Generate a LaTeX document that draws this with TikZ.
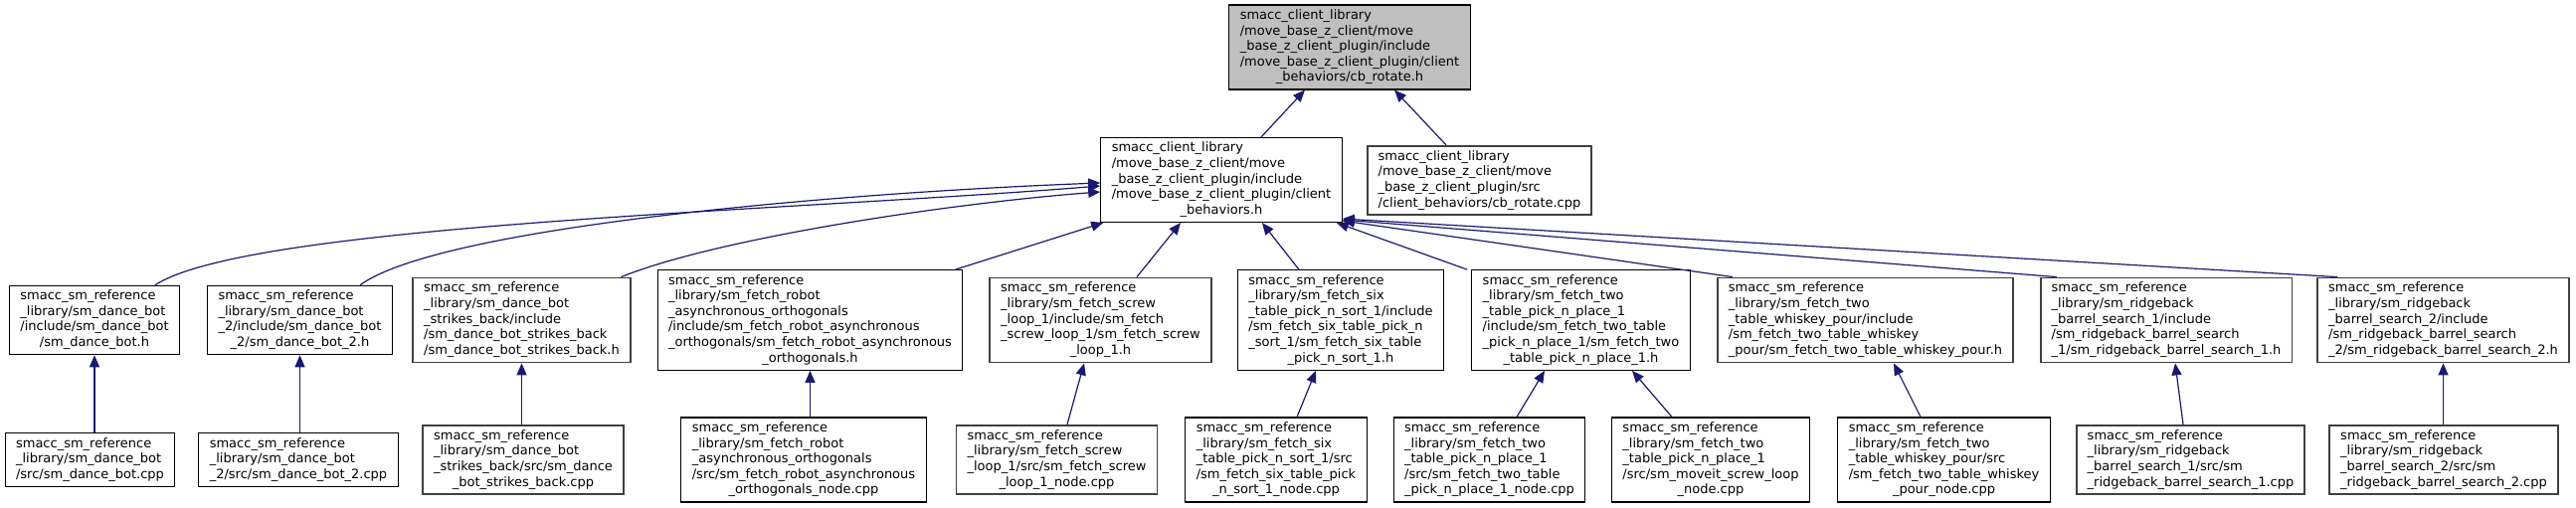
\documentclass[tikz,border=0pt]{standalone}
\usepackage{fontspec}
\setmainfont{DejaVu Sans}
\usetikzlibrary{arrows.meta}
\definecolor{edgecol}{HTML}{191970}
\definecolor{topfill}{HTML}{BFBFBF}
\definecolor{dborder}{HTML}{404040}
\newcommand{\flab}[2]{\begin{tabular}{@{}l@{}}#1\\\multicolumn{1}{@{}c@{}}{#2}\end{tabular}}
\begin{document}
\begin{tikzpicture}[x=1pt,y=-1pt,
  box/.style={draw=black, line width=1.1pt, fill=white, inner xsep=11pt, inner ysep=3.5pt, font=\fontsize{13}{15.6}\selectfont},
  dbox/.style={box, draw=dborder, line width=1.8pt},
  edge/.style={draw=edgecol, line width=1.2pt, -{Triangle[length=12pt,width=10pt]}}]
\fill[white] (0,0) rectangle (2590,511);
\useasboundingbox (0,0) rectangle (2590,511);

% top
\node[box, fill=topfill] (top) at (1357,47.5) {\flab{smacc\_client\_library\\/move\_base\_z\_client/move\\\_base\_z\_client\_plugin/include\\/move\_base\_z\_client\_plugin/client}{\_behaviors/cb\_rotate.h}};
% row 1
\node[box] (cb) at (1228,181) {\flab{smacc\_client\_library\\/move\_base\_z\_client/move\\\_base\_z\_client\_plugin/include\\/move\_base\_z\_client\_plugin/client}{\_behaviors.h}};
\node[dbox] (cbrot) at (1487.5,181.5) {\flab{smacc\_client\_library\\/move\_base\_z\_client/move\\\_base\_z\_client\_plugin/src}{/client\_behaviors/cb\_rotate.cpp}};
% row 2
\node[box] (b1) at (95,322) {\flab{smacc\_sm\_reference\\\_library/sm\_dance\_bot\\/include/sm\_dance\_bot}{/sm\_dance\_bot.h}};
\node[box] (b2) at (301.5,322) {\flab{smacc\_sm\_reference\\\_library/sm\_dance\_bot\\\_2/include/sm\_dance\_bot}{\_2/sm\_dance\_bot\_2.h}};
\node[dbox] (b3) at (524.5,322) {\flab{smacc\_sm\_reference\\\_library/sm\_dance\_bot\\\_strikes\_back/include\\/sm\_dance\_bot\_strikes\_back}{/sm\_dance\_bot\_strikes\_back.h}};
\node[box] (b4) at (814.5,322) {\flab{smacc\_sm\_reference\\\_library/sm\_fetch\_robot\\\_asynchronous\_orthogonals\\/include/sm\_fetch\_robot\_asynchronous\\\_orthogonals/sm\_fetch\_robot\_asynchronous}{\_orthogonals.h}};
\node[dbox] (b5) at (1106.5,322) {\flab{smacc\_sm\_reference\\\_library/sm\_fetch\_screw\\\_loop\_1/include/sm\_fetch\\\_screw\_loop\_1/sm\_fetch\_screw}{\_loop\_1.h}};
\node[box] (b6) at (1348,322) {\flab{smacc\_sm\_reference\\\_library/sm\_fetch\_six\\\_table\_pick\_n\_sort\_1/include\\/sm\_fetch\_six\_table\_pick\_n\\\_sort\_1/sm\_fetch\_six\_table}{\_pick\_n\_sort\_1.h}};
\node[box] (b7) at (1589.5,322) {\flab{smacc\_sm\_reference\\\_library/sm\_fetch\_two\\\_table\_pick\_n\_place\_1\\/include/sm\_fetch\_two\_table\\\_pick\_n\_place\_1/sm\_fetch\_two}{\_table\_pick\_n\_place\_1.h}};
\node[dbox] (b8) at (1875.5,322) {\flab{smacc\_sm\_reference\\\_library/sm\_fetch\_two\\\_table\_whiskey\_pour/include\\/sm\_fetch\_two\_table\_whiskey}{\_pour/sm\_fetch\_two\_table\_whiskey\_pour.h}};
\node[dbox] (b9) at (2178,322) {\flab{smacc\_sm\_reference\\\_library/sm\_ridgeback\\\_barrel\_search\_1/include\\/sm\_ridgeback\_barrel\_search}{\_1/sm\_ridgeback\_barrel\_search\_1.h}};
\node[dbox] (b10) at (2456.5,322) {\flab{smacc\_sm\_reference\\\_library/sm\_ridgeback\\\_barrel\_search\_2/include\\/sm\_ridgeback\_barrel\_search}{\_2/sm\_ridgeback\_barrel\_search\_2.h}};
% row 3
\node[box] (c1) at (90.5,462.5) {\flab{smacc\_sm\_reference\\\_library/sm\_dance\_bot}{/src/sm\_dance\_bot.cpp}};
\node[box] (c2) at (300,462.5) {\flab{smacc\_sm\_reference\\\_library/sm\_dance\_bot}{\_2/src/sm\_dance\_bot\_2.cpp}};
\node[dbox] (c3) at (526,462.5) {\flab{smacc\_sm\_reference\\\_library/sm\_dance\_bot\\\_strikes\_back/src/sm\_dance}{\_bot\_strikes\_back.cpp}};
\node[box] (c4) at (808,462.5) {\flab{smacc\_sm\_reference\\\_library/sm\_fetch\_robot\\\_asynchronous\_orthogonals\\/src/sm\_fetch\_robot\_asynchronous}{\_orthogonals\_node.cpp}};
\node[dbox] (c5) at (1062.5,462.5) {\flab{smacc\_sm\_reference\\\_library/sm\_fetch\_screw\\\_loop\_1/src/sm\_fetch\_screw}{\_loop\_1\_node.cpp}};
\node[box] (c6) at (1283,462.5) {\flab{smacc\_sm\_reference\\\_library/sm\_fetch\_six\\\_table\_pick\_n\_sort\_1/src\\/sm\_fetch\_six\_table\_pick}{\_n\_sort\_1\_node.cpp}};
\node[box] (c7) at (1497.5,462.5) {\flab{smacc\_sm\_reference\\\_library/sm\_fetch\_two\\\_table\_pick\_n\_place\_1\\/src/sm\_fetch\_two\_table}{\_pick\_n\_place\_1\_node.cpp}};
\node[box] (c8) at (1720,462.5) {\flab{smacc\_sm\_reference\\\_library/sm\_fetch\_two\\\_table\_pick\_n\_place\_1\\/src/sm\_moveit\_screw\_loop}{\_node.cpp}};
\node[box] (c9) at (1954.5,462.5) {\flab{smacc\_sm\_reference\\\_library/sm\_fetch\_two\\\_table\_whiskey\_pour/src\\/sm\_fetch\_two\_table\_whiskey}{\_pour\_node.cpp}};
\node[dbox] (c10) at (2202.5,462.5) {\flab{smacc\_sm\_reference\\\_library/sm\_ridgeback\\\_barrel\_search\_1/src/sm}{\_ridgeback\_barrel\_search\_1.cpp}};
\node[dbox] (c11) at (2457,462.5) {\flab{smacc\_sm\_reference\\\_library/sm\_ridgeback\\\_barrel\_search\_2/src/sm}{\_ridgeback\_barrel\_search\_2.cpp}};

% edges to top
\draw[edge] ([xshift=40pt]cb.north) -- ([xshift=-45pt]top.south);
\draw[edge] ([xshift=-33.5pt]cbrot.north) -- ([xshift=45pt]top.south);
% edges to cb
\draw[edge] ([xshift=61pt]b1.north) .. controls (250,225) and (800,212) .. ([yshift=-6pt]cb.west);
\draw[edge] ([xshift=60.5pt]b2.north) .. controls (440,230) and (820,195) .. ([yshift=-3pt]cb.west);
\draw[edge] ([xshift=100pt]b3.north) .. controls (720,240) and (950,205) .. ([yshift=-12pt]cb.west);
\draw[edge] ([xshift=146pt]b4.north) -- ([xshift=3pt]cb.south west);
\draw[edge] ([xshift=36.5pt]b5.north) -- ([xshift=-41pt]cb.south);
\draw[edge] ([xshift=-42pt]b6.north) -- ([xshift=41pt]cb.south);
\draw[edge] ([xshift=-4pt]b7.north west) -- ([xshift=-6pt]cb.south east);
\draw[edge] ([xshift=16pt]b8.north west) -- ([yshift=2pt]cb.south east);
\draw[edge] ([xshift=17pt]b9.north west) -- ([yshift=3pt]cb.south east);
\draw[edge] ([xshift=21pt]b10.north west) -- ([yshift=4pt]cb.south east);
% edges row 3 -> row 2
\draw[edge] (b1.south |- c1.north) -- (b1.south);
\draw[edge] (b2.south |- c2.north) -- (b2.south);
\draw[edge] (b3.south |- c3.north) -- (b3.south);
\draw[edge] (b4.south |- c4.north) -- (b4.south);
\draw[edge] ([xshift=10.5pt]c5.north) -- ([xshift=-16.5pt]b5.south);
\draw[edge] ([xshift=21pt]c6.north) -- ([xshift=-25pt]b6.south);
\draw[edge] ([xshift=27.5pt]c7.north) -- ([xshift=-36.5pt]b7.south);
\draw[edge] ([xshift=-39pt]c8.north) -- ([xshift=51.5pt]b7.south);
\draw[edge] ([xshift=-23.5pt]c9.north) -- ([xshift=28.5pt]b8.south);
\draw[edge] ([xshift=-7.5pt]c10.north) -- ([xshift=9pt]b9.south);
\draw[edge] (b10.south |- c11.north) -- (b10.south);
\end{tikzpicture}
\end{document}
